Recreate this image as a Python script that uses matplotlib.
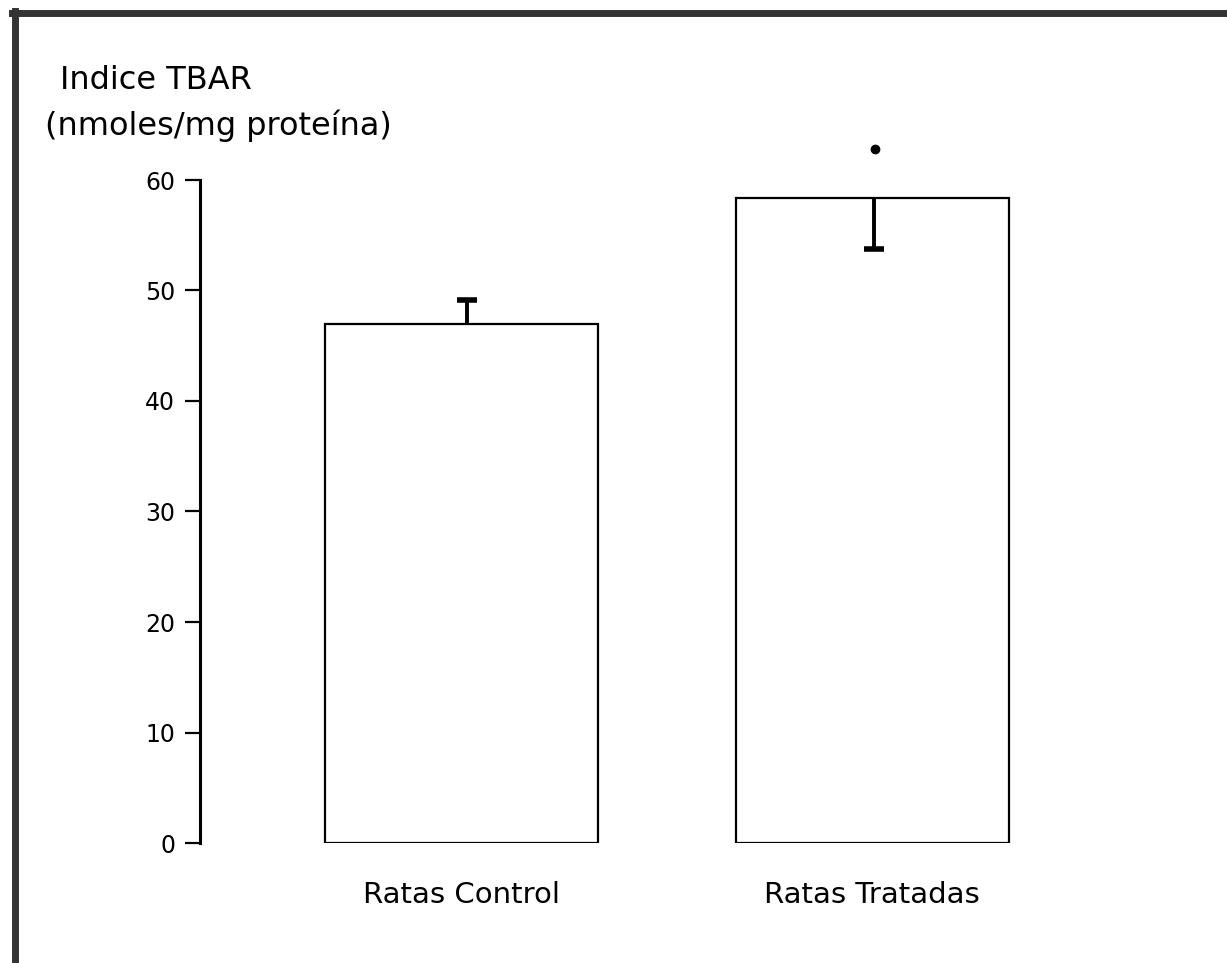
import matplotlib
matplotlib.use("Agg")
import matplotlib.pyplot as plt
from matplotlib.lines import Line2D
import numpy as np

# data
groups = ["Ratas Control", "Ratas Tratadas"]
means = [47.0, 58.4]
err_up = [2.1, 0.0]
err_down = [0.0, 4.6]
sig_y = [None, 62.8]   # significance dot above treated bar
yticks = [0, 10, 20, 30, 40, 50, 60]

plt.rcParams['font.family'] = ['DejaVu Sans']

fig = plt.figure(figsize=(12.27, 9.63), dpi=100)
ax = fig.add_axes([200 / 1227, 1 - 843 / 963, 900 / 1227, (843 - 180) / 963])

x = np.arange(len(groups))
ax.bar(x, means, width=0.665, color="white", edgecolor="black", linewidth=1.6, zorder=2)

# one-sided error bars: stem + single cap at the free end
ex = x + np.array([0.013, 0.005])
means = np.array(means)
ends = np.where(np.array(err_up) > 0, means + np.array(err_up), means - np.array(err_down))
ax.vlines(ex, means, ends, color="black", linewidth=2.8, zorder=3)
ax.plot(ex, ends, "_", color="black", markersize=15, markeredgewidth=4, zorder=3, clip_on=False)

for xi, s in zip(x, sig_y):
    if s is not None:
        ax.plot(xi + 0.008, s, "o", color="black", markersize=6, clip_on=False, zorder=4)

ax.set_xlim(-0.637, 1.555)
ax.set_ylim(0, 60)
ax.set_yticks(yticks)
ax.set_xticks(x)
ax.set_xticklabels(groups, fontsize=21)
ax.tick_params(axis="x", length=0, pad=27)
ax.tick_params(axis="y", length=11, width=1.6, pad=7, labelsize=17)
for sp in ["top", "right", "bottom"]:
    ax.spines[sp].set_visible(False)
ax.spines["left"].set_linewidth(2.2)

fig.text(60 / 1227, 1 - 89 / 963, "Indice TBAR", fontsize=23, ha="left", va="baseline")
fig.text(45 / 1227, 1 - 135 / 963, "(nmoles/mg proteína)", fontsize=23, ha="left", va="baseline")

# scanned page border (top and left)
fig.add_artist(Line2D([12 / 1227, 1.0], [1 - 13 / 963, 1 - 13 / 963], color="#333333", linewidth=5))
fig.add_artist(Line2D([15 / 1227, 15 / 1227], [0.0, 1 - 11 / 963], color="#333333", linewidth=5))

fig.savefig("out.png", dpi=100)
